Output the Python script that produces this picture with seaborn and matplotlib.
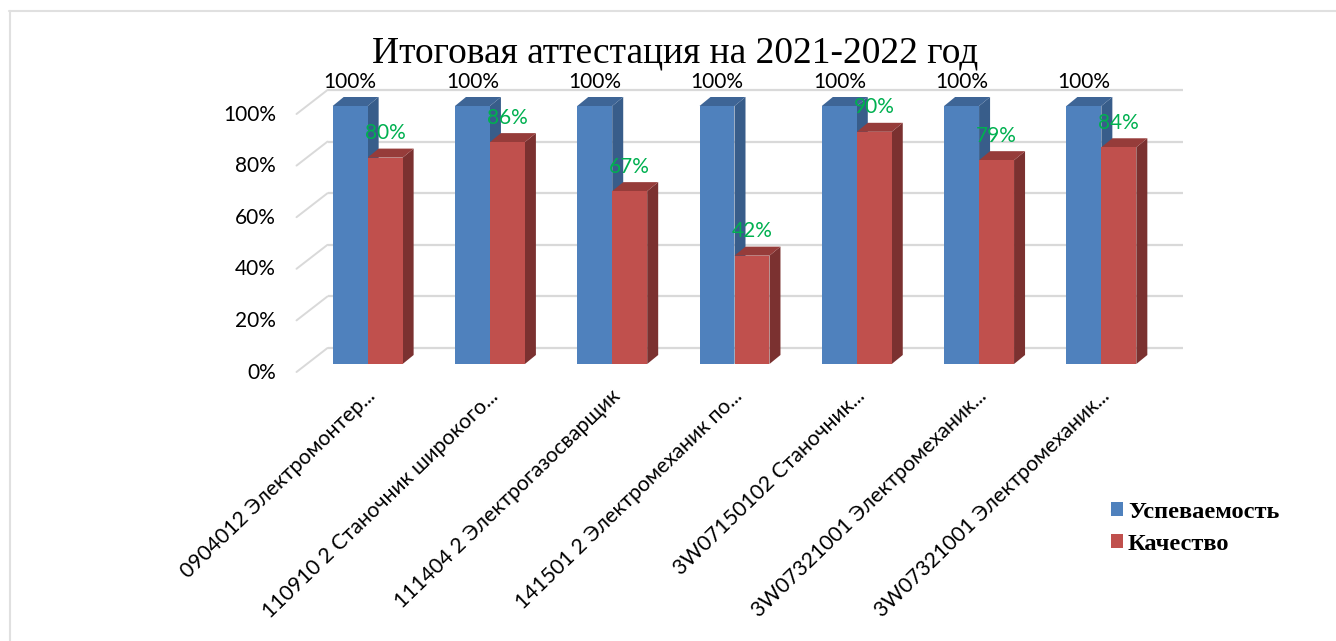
from __future__ import annotations

import matplotlib

matplotlib.use("Agg")
import matplotlib.pyplot as plt
import matplotlib.transforms as mtransforms
import pandas as pd
import seaborn as sns
from matplotlib.lines import Line2D
from matplotlib.patches import Polygon

FIG_W, FIG_H = 1336, 641
DPI = 100

TITLE = "Итоговая аттестация на 2021-2022 год"
CATEGORIES = [
    "0904012 Электромонтер...",
    "110910 2 Станочник широкого...",
    "111404 2 Электрогазосварщик",
    "141501 2 Электромеханик по...",
    "3W07150102 Станочник...",
    "3W07321001 Электромеханик...",
    "3W07321001 Электромеханик...",
]
USPEVAEMOST = [100, 100, 100, 100, 100, 100, 100]
KACHESTVO = [80, 86, 67, 42, 90, 79, 84]
Y_TICKS = [0, 20, 40, 60, 80, 100]
SERIES_NAMES = ["Успеваемость", "Качество"]

FRONT = {"Успеваемость": "#4f81bd", "Качество": "#c0504d"}
TOP = {"Успеваемость": "#3e6596", "Качество": "#963c3a"}
SIDE = {"Успеваемость": "#385d8a", "Качество": "#7b3130"}
GRID = "#d9d9d9"


def px_rect(left, top, right, bottom):
    return [left / FIG_W, 1 - bottom / FIG_H, (right - left) / FIG_W, (bottom - top) / FIG_H]


def draw_bar_depth(ax, bar, series, dx, dy):
    x0, x1 = bar.get_x(), bar.get_x() + bar.get_width()
    h = bar.get_height()
    top = [(x0, h), (x1, h), (x1 + dx, h + dy), (x0 + dx, h + dy)]
    side = [(x1, 0), (x1, h), (x1 + dx, h + dy), (x1 + dx, dy)]
    ax.add_patch(Polygon(side, color=SIDE[series], lw=0, zorder=2, clip_on=False))
    ax.add_patch(Polygon(top, color=TOP[series], lw=0, zorder=2, clip_on=False))


def main() -> None:
    sns.set_theme(style="white")
    df = pd.DataFrame(
        {
            "pos": list(range(len(CATEGORIES))) * 2,
            "value": USPEVAEMOST + KACHESTVO,
            "series": [SERIES_NAMES[0]] * len(CATEGORIES) + [SERIES_NAMES[1]] * len(CATEGORIES),
        }
    )

    fig = plt.figure(figsize=(FIG_W / DPI, FIG_H / DPI), dpi=DPI, facecolor="white")
    ax = fig.add_axes(px_rect(306.5, 106, 1162.5, 364))
    sns.barplot(
        data=df, x="pos", y="value", hue="series", hue_order=SERIES_NAMES,
        palette=FRONT, width=0.572, gap=0, saturation=1, errorbar=None, ax=ax, zorder=3,
        linewidth=0,
    )
    ax.set_xlim(-0.5, len(CATEGORIES) - 0.5)
    ax.set_ylim(0, 100)
    ax.set_xlabel("")
    ax.set_ylabel("")
    sns.despine(ax=ax, left=True, bottom=True)
    ax.patch.set_alpha(0)

    # one pixel in data units, the fake 3d is all built from these
    px_x = len(CATEGORIES) / 856
    px_y = 100 / 258

    # back wall and floor/side gridlines
    for v in Y_TICKS:
        back_y = v + 16 * px_y
        ax.plot([-0.5 + 21 * px_x, 6.5 + 20 * px_x], [back_y, back_y], color=GRID, lw=1.6,
                zorder=1, clip_on=False, solid_capstyle="butt")
        ax.plot([-0.5 - 10 * px_x, -0.5 + 21 * px_x], [v - 8 * px_y, back_y], color=GRID, lw=1.4,
                zorder=1, clip_on=False)

    for container, series in zip(ax.containers, SERIES_NAMES):
        for bar in container:
            draw_bar_depth(ax, bar, series, 11 * px_x, 9 * px_y)

    ax.bar_label(ax.containers[0], labels=[f"{v}%" for v in USPEVAEMOST], padding=10,
                 fontsize=15, family="Lato", color="black", zorder=6, clip_on=False)
    ax.bar_label(ax.containers[1], labels=[f"{v}%" for v in KACHESTVO], padding=10.5,
                 fontsize=15, family="Lato", color="#00b050", zorder=6, clip_on=False)

    ax.set_yticks(Y_TICKS, [f"{v}%" for v in Y_TICKS], fontsize=15, family="Lato", color="black")
    ax.tick_params(axis="y", length=0, pad=22)
    shift_y = mtransforms.ScaledTranslation(0, -6.5 / DPI, fig.dpi_scale_trans)
    for label in ax.get_yticklabels():
        label.set_transform(label.get_transform() + shift_y)

    ax.set_xticks(range(len(CATEGORIES)), CATEGORIES, fontsize=15.2, family="Lato", color="black",
                  rotation=44, ha="right", rotation_mode="anchor")
    ax.tick_params(axis="x", length=0, pad=16)
    shift_x = mtransforms.ScaledTranslation(-2 / DPI, 0, fig.dpi_scale_trans)
    for label in ax.get_xticklabels():
        label.set_transform(label.get_transform() + shift_x)

    fig.text(675 / FIG_W, 1 - 53 / FIG_H, TITLE, family="Liberation Serif", fontsize=27,
             color="black", ha="center", va="center")

    handles, labels = ax.get_legend_handles_labels()
    ax.legend_.remove()
    for handle in handles:
        handle.set_linewidth(0)
    fig.legend(
        handles, labels, loc="upper left", bbox_to_anchor=(1111 / FIG_W, 1 - 502 / FIG_H),
        frameon=False, labelcolor="black",
        prop={"family": "Liberation Serif", "weight": "bold", "size": 17.6},
        handlelength=0.49, handleheight=0.49, handletextpad=0.2, labelspacing=0.44,
        borderpad=0, borderaxespad=0,
    )

    # outer frame of the pasted picture
    fig.add_artist(Line2D([10 / FIG_W, 10 / FIG_W], [0, 1 - 11 / FIG_H], color="#e0e0e0", lw=1.5))
    fig.add_artist(Line2D([9 / FIG_W, 1], [1 - 11 / FIG_H, 1 - 11 / FIG_H], color="#e0e0e0", lw=1.5))

    fig.savefig("out.png", dpi=DPI)
    plt.close(fig)


if __name__ == "__main__":
    main()
